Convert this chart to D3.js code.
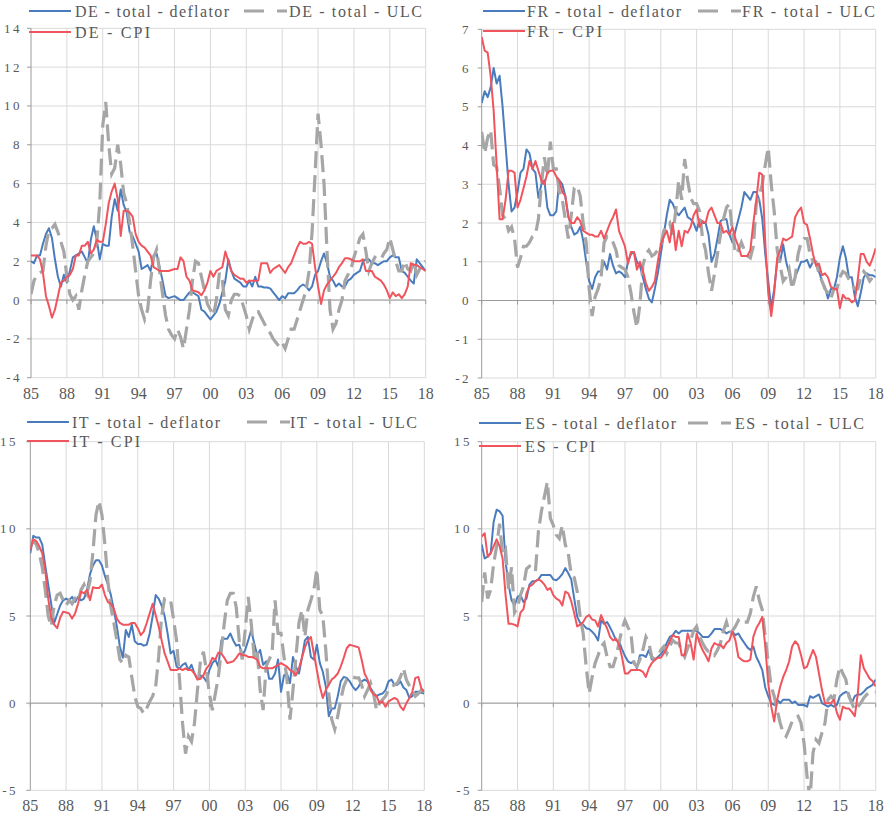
<!DOCTYPE html>
<html>
<head>
<meta charset="utf-8">
<script src="https://cdn.jsdelivr.net/npm/d3@7"></script>
<style>
  body { margin: 0; background: #fff; }
  text { font-family: "Liberation Serif", "DejaVu Serif", serif; fill: #595959; }
</style>
</head>
<body>
<svg id="chart" width="884" height="816"></svg>
<script>
// quarterly observations, 1985Q1 .. 2018Q1
var startYear = 1985;
var xTickLabels = ["85", "88", "91", "94", "97", "00", "03", "06", "09", "12", "15", "18"];

var deYTicks = [-4, -2, 0, 2, 4, 6, 8, 10, 12, 14];
var frYTicks = [-2, -1, 0, 1, 2, 3, 4, 5, 6, 7];
var itYTicks = [-5, 0, 5, 10, 15];
var esYTicks = [-5, 0, 5, 10, 15];

var deDeflator = [2.0,1.9,2.3,2.3, 2.9,3.4,3.7,3.2, 2.1,1.2,0.7,1.3, 0.9,1.5,2.2,2.3, 2.4,2.5,2.2,1.9,
  3.1,3.8,3.1,2.1, 2.9,2.8,2.8,4.3, 5.2,4.6,5.7,4.9, 4.5,3.5,3.3,2.9, 2.5,1.6,1.7,1.8,
  1.5,2.3,2.4,1.7, 1.0,0.2,0.1,0.15, 0.2,0.1,0.0,0.0, 0.2,0.4,0.4,0.3, 0.2,-0.5,-0.6,-0.8,
  -1.0,-0.8,-0.6,-0.2, 0.4,1.0,2.1,1.5, 1.1,1.0,0.9,0.7, 0.7,1.0,0.7,1.2, 0.7,0.7,0.65,0.65,
  0.6,0.4,0.2,0.0, 0.2,0.1,0.35,0.35, 0.35,0.5,0.7,0.8, 0.7,0.5,0.7,1.3, 1.5,2.0,2.4,1.9,
  1.2,1.0,0.7,0.85, 0.7,0.7,1.0,1.1, 1.3,1.4,1.5,2.0, 2.1,2.1,1.9,1.9, 1.8,1.9,2.0,2.0,
  2.2,2.3,2.2,2.2, 1.5,1.4,1.2,1.0, 0.85,2.1,1.9,1.7, 1.5];
var deULC = [0.3,1.0,1.3,1.4, 1.5,2.8,3.6,3.7, 3.9,3.5,3.0,2.5, 1.2,0.3,0.0,0.2, -0.5,0.5,1.3,2.0,
  2.2,2.4,3.0,5.0, 9.0,10.2,8.0,6.5, 6.8,8.0,7.0,5.5, 5.0,4.0,2.8,1.5, 0.2,-0.5,-1.0,-0.5,
  1.0,2.2,2.6,1.5, 0.3,-0.8,-1.5,-1.8, -2.0,-1.5,-1.9,-2.5, -1.5,-0.5,1.0,2.0, 1.9,1.2,0.5,-0.2,
  -0.5,-0.8,0.0,1.4, 1.0,-0.5,-0.8,0.0, 0.3,0.3,0.2,-0.3, -0.8,-1.5,-1.0,-0.6, -0.6,-0.9,-1.2,-1.5,
  -1.7,-2.0,-2.2,-2.4, -2.2,-2.5,-2.0,-1.5, -1.5,-1.0,-0.5,0.0, 0.5,1.5,3.5,6.5, 9.6,8.0,6.0,2.5,
  -0.5,-1.5,-1.2,-0.5, 0.0,1.0,1.3,1.6, 2.2,2.7,3.2,3.4, 2.5,1.5,1.9,2.2, 2.1,2.1,2.4,2.6,
  3.2,2.6,2.0,1.5, 1.5,2.0,1.6,1.5, 2.0,1.3,1.6,1.9, 2.0];
var deCPI = [2.3,2.3,2.3,2.1, 1.4,0.2,-0.3,-0.9, -0.5,0.2,0.9,1.0, 1.2,1.3,1.6,2.3, 2.3,2.8,2.8,3.0,
  2.4,2.6,3.1,3.0, 3.0,3.9,5.0,5.6, 6.0,5.2,3.3,4.6, 4.6,4.5,4.3,3.4, 3.0,2.8,2.7,2.5,
  2.3,1.7,1.6,1.5, 1.5,1.5,1.5,1.55, 1.6,1.6,2.2,2.0, 1.2,1.0,0.5,0.45, 0.4,0.25,0.5,0.9,
  1.5,1.2,1.5,1.6, 1.7,2.5,2.0,1.5, 1.3,1.2,1.1,1.1, 0.9,1.0,1.0,1.0, 1.0,1.9,1.9,1.9,
  1.4,1.6,1.7,1.8, 1.6,1.4,1.7,1.9, 2.3,2.7,3.0,2.9, 2.9,3.0,2.9,1.7, 0.7,-0.2,0.5,0.8,
  1.0,1.2,1.4,1.7, 1.9,2.15,2.15,2.1, 2.0,2.0,2.0,2.1, 1.5,1.5,1.5,1.2, 1.1,1.0,0.8,0.5,
  0.1,0.4,0.2,0.3, 0.1,0.3,0.7,1.9, 1.8,1.8,1.7,1.6, 1.5];

var frDeflator = [5.1,5.4,5.25,5.5, 6.0,5.6,5.8,5.0, 4.0,3.0,2.3,2.4, 2.8,3.3,3.4,3.9, 3.8,3.4,3.3,2.65,
  3.0,3.1,2.4,2.2, 2.2,2.3,3.1,3.0, 2.7,2.2,1.9,1.7, 1.75,1.9,1.55,1.0, 0.5,0.3,0.6,0.75,
  0.75,1.0,0.8,1.2, 0.9,0.7,0.75,0.7, 0.6,1.0,1.2,1.25, 1.0,0.9,0.6,0.3, 0.05,-0.05,0.3,0.7,
  1.2,1.7,2.2,2.6, 2.5,2.3,2.2,2.3, 2.4,2.15,2.1,2.0, 1.8,2.1,2.0,2.0, 1.7,1.0,1.2,1.6,
  2.05,2.1,2.1,1.7, 1.5,1.8,2.1,2.4, 2.8,2.7,2.6,2.8, 2.8,2.6,2.1,1.2, 0.5,-0.2,0.3,1.0,
  1.0,1.45,1.0,0.7, 0.4,0.6,0.8,1.0, 1.0,1.05,0.85,1.0, 1.0,0.75,0.5,0.35, 0.05,0.3,0.3,0.6,
  1.1,1.4,1.1,0.6, 0.6,0.1,-0.15,0.2, 0.6,0.7,0.65,0.65, 0.6];
var frULC = [4.35,3.8,4.2,4.4, 3.5,3.45,2.9,2.2, 2.1,1.8,1.9,1.6, 0.85,1.1,1.4,1.4, 1.5,1.65,1.7,2.1,
  3.0,3.7,3.2,4.1, 3.4,3.4,2.8,2.6, 2.1,1.6,2.2,2.9, 2.95,2.7,2.0,1.5, 0.3,-0.4,0.1,0.3,
  0.6,1.5,1.65,1.6, 1.5,1.3,0.9,0.85, 0.8,0.6,0.2,-0.3, -0.7,-0.1,0.9,1.2, 1.3,1.15,1.2,1.3,
  1.4,1.8,1.9,2.0, 1.7,2.3,3.1,2.6, 3.65,3.1,2.65,2.5, 2.5,2.3,1.6,1.3, 0.7,0.25,0.7,1.2,
  1.7,2.1,2.4,2.5, 1.8,1.2,1.3,1.5, 1.3,1.15,1.1,1.4, 2.5,2.7,3.0,3.5, 3.95,3.0,2.3,1.3,
  0.9,0.5,0.6,0.8, 0.3,0.6,1.2,1.5, 1.6,1.6,1.2,1.0, 1.0,0.7,0.5,0.3, 0.2,0.05,0.3,0.3,
  0.6,0.75,0.7,0.55, 0.45,0.3,0.3,0.6, 0.75,0.65,0.5,0.6, 0.8];
var frCPI = [6.8,6.45,6.4,5.8, 4.9,3.5,2.1,2.1, 2.6,3.35,3.35,3.3, 2.4,2.6,2.9,3.2, 3.6,3.4,3.6,3.35,
  3.1,3.0,3.3,3.35, 3.35,3.2,3.1,2.8, 2.7,2.15,2.0,2.0, 2.15,2.05,1.8,1.75, 1.7,1.7,1.65,1.65,
  1.8,1.6,1.8,2.0, 2.15,2.35,1.8,1.6, 1.4,0.95,1.25,1.25, 0.8,1.0,0.77,0.45, 0.25,0.35,0.5,1.0,
  1.45,1.65,1.8,1.5, 2.0,1.3,1.8,1.4, 1.8,1.75,1.9,2.2, 2.35,1.9,2.05,2.0, 2.3,2.4,2.2,2.0,
  2.0,1.75,1.8,1.7, 1.9,1.6,1.4,1.15, 1.15,1.15,1.3,2.0, 2.6,3.3,3.25,1.5, 0.2,-0.4,0.2,1.1,
  1.3,1.6,1.55,1.6, 1.65,2.15,2.3,2.4, 2.0,1.95,1.6,1.2, 0.9,0.95,0.65,0.7, 0.6,0.35,0.3,0.3,
  -0.2,0.15,0.05,0.05, -0.05,0.0,0.55,1.2, 1.2,1.0,0.9,1.1, 1.35];

var itDeflator = [8.6,9.6,9.5,9.5, 9.1,7.9,6.8,5.7, 4.6,5.1,5.6,5.9, 6.0,5.9,6.1,5.8, 6.1,5.9,6.0,6.5,
  7.4,7.9,8.2,8.2, 7.9,7.3,6.8,6.2, 5.35,4.4,3.25,2.6, 4.2,3.8,4.5,3.55, 3.4,3.4,3.3,3.35,
  4.0,5.0,6.2,6.0, 5.6,5.0,4.0,2.85, 3.0,2.1,2.0,2.2, 2.3,1.9,2.2,1.7, 1.4,1.6,1.5,1.25,
  1.9,2.3,2.5,2.1, 3.6,3.7,3.7,4.0, 3.6,3.3,3.35,2.75, 3.05,3.6,4.2,3.45, 2.75,3.05,2.2,2.4,
  1.4,1.4,1.7,2.5, 0.65,1.6,1.7,1.15, 2.65,2.1,1.7,2.6, 3.6,3.8,2.65,2.5, 3.35,2.3,1.8,0.95,
  -0.75,-0.3,-0.3,0.4, 1.25,1.5,1.45,1.25, 0.95,0.75,0.95,1.25, 1.35,1.25,0.85,0.6, 0.4,0.5,0.55,0.75,
  1.25,1.35,1.05,1.05, 1.25,0.9,0.75,0.3, 0.4,0.65,0.65,0.6, 0.55];
var itULC = [9.0,9.3,9.1,8.6, 7.8,6.5,5.0,4.4, 5.6,6.2,6.3,5.9, 5.6,5.9,5.7,6.0, 5.8,6.5,6.8,6.3,
  7.0,8.7,10.8,11.6, 10.8,9.1,7.0,5.5, 4.6,3.6,2.5,2.3, 2.75,2.65,1.5,0.4, -0.2,-0.3,-0.6,-0.3,
  0.1,0.4,0.95,2.65, 5.0,6.0,6.0,5.9, 4.8,3.6,1.35,-1.15, -2.9,-1.9,-2.2,-1.15, 0.75,2.4,2.95,1.9,
  0.55,-0.4,0.55,1.5, 3.05,4.6,5.9,6.3, 6.3,5.5,3.6,2.5, 4.2,6.1,4.6,2.65, 3.05,0.75,-0.4,2.1,
  2.5,2.85,5.9,4.0, 4.0,2.65,1.35,-0.95, 0.75,2.65,4.6,5.35, 3.8,5.35,5.9,6.5, 7.7,5.35,5.0,3.05,
  0.55,-0.95,-1.5,-0.75, 0.2,0.95,1.35,1.4, 1.5,1.45,1.45,1.05, 0.4,0.75,1.15,0.55, -0.4,0.0,0.2,0.4,
  0.75,0.95,1.05,1.15, 1.5,2.0,1.35,1.0, 0.75,0.4,0.55,0.75, 0.65];
var itCPI = [8.8,9.4,9.3,9.0, 8.6,7.6,6.0,4.9, 4.5,4.3,4.9,5.25, 5.2,5.15,4.85,5.15, 5.7,6.4,6.3,6.5,
  5.9,6.65,6.6,6.6, 6.8,6.2,5.8,5.7, 5.4,4.85,4.6,4.5, 4.5,4.5,4.6,4.6, 4.3,3.9,4.1,4.6,
  5.15,5.7,5.05,4.4, 3.6,2.85,2.4,1.9, 1.9,1.9,2.0,1.9, 2.0,1.9,1.9,1.7, 1.35,1.4,1.6,2.0,
  2.2,2.6,2.5,2.9, 2.85,2.6,2.3,2.35, 2.4,2.6,2.85,2.75, 2.75,2.65,2.65,2.6, 2.5,2.1,2.0,2.0,
  2.0,2.0,2.1,2.2, 2.3,2.2,2.1,1.9, 1.8,1.6,2.0,2.6, 3.2,3.6,3.8,2.85, 1.9,0.95,0.3,0.75,
  1.05,1.35,1.5,1.7, 2.1,2.6,3.15,3.35, 3.3,3.25,3.2,2.5, 1.7,1.35,0.75,0.5, 0.4,0.0,0.1,-0.2,
  0.1,0.2,0.3,0.2, -0.2,-0.4,0.0,0.3, 0.65,1.45,1.5,0.85, 0.65];

var esDeflator = [9.1,8.3,8.4,8.6, 10.4,11.1,11.0,10.75, 8.1,6.8,5.9,5.6, 6.1,6.2,5.8,6.0, 6.8,7.0,7.0,7.1,
  7.35,7.35,7.35,7.35, 7.1,7.05,7.2,7.4, 7.75,7.45,7.1,6.0, 4.95,4.6,4.5,4.3, 4.25,4.1,3.9,3.6,
  4.75,4.55,4.65,4.35, 4.0,3.6,3.55,3.1, 2.7,2.4,2.3,2.4, 2.0,2.75,2.75,2.65, 3.05,2.5,2.5,2.65,
  2.8,3.05,3.45,3.8, 3.9,4.15,4.0,4.15, 4.15,4.15,4.15,4.15, 4.15,4.0,3.8,3.8, 3.8,4.0,4.25,4.25,
  4.25,4.15,4.0,4.1, 4.1,3.9,4.0,3.7, 3.45,3.2,3.05,3.25, 2.65,2.3,1.9,0.9, 0.4,0.0,-0.1,0.2,
  0.0,0.2,0.2,0.2, 0.0,0.1,-0.1,-0.1, -0.1,-0.2,0.4,0.3, 0.4,0.5,0.0,-0.1, -0.2,-0.1,-0.2,-0.1,
  0.4,0.55,0.65,0.55, 0.0,0.4,0.5,0.5, 0.65,0.85,0.95,1.05, 1.35];
var esULC = [5.8,7.5,6.0,6.5, 8.0,9.0,10.3,8.5, 8.8,6.5,7.8,5.2, 5.5,6.2,6.7,7.7, 7.85,7.65,7.55,9.85,
  11.0,11.85,12.7,10.6, 10.2,9.65,9.45,10.2, 9.1,8.6,7.35,7.2, 6.4,4.95,4.0,2.1, 0.55,1.5,2.3,2.75,
  3.25,3.45,2.65,2.1, 2.1,2.65,3.45,4.25, 4.75,4.35,4.0,2.3, 2.1,2.5,3.05,3.8, 3.45,2.65,2.5,2.65,
  3.05,3.25,2.85,3.25, 3.6,3.45,3.45,2.95, 2.65,3.15,3.6,4.15, 4.4,3.8,3.45,3.15, 2.95,2.95,2.75,3.05,
  3.45,4.15,4.65,4.0, 4.15,4.4,4.75,4.55, 4.65,4.65,5.15,6.1, 6.7,5.9,5.35,3.8, 2.3,0.95,0.4,-0.4,
  -1.15,-1.7,-1.9,-1.5, -1.05,-0.85,-0.75,-1.15, -2.3,-4.2,-5.5,-2.85, -2.1,-2.3,-1.7,-1.15, 0.2,0.4,0.2,1.35,
  2.1,1.7,1.35,0.4, 0.0,-0.4,-0.2,0.0, 0.3,0.5,0.6,0.65, 0.65];
var esCPI = [9.55,9.75,8.4,8.6, 9.0,9.4,9.0,8.3, 6.2,4.55,4.55,4.5, 4.4,5.2,5.4,6.3, 6.7,6.8,7.0,7.1,
  7.0,6.8,6.5,6.6, 6.2,6.0,5.9,5.6, 6.4,6.3,5.85,5.15, 4.4,4.5,4.65,4.95, 5.05,4.8,4.75,4.4,
  5.05,4.65,4.3,3.8, 3.6,3.7,3.35,2.65, 1.7,1.7,1.9,1.9, 1.9,1.9,1.8,1.5, 2.0,2.3,2.5,2.6,
  2.6,2.85,3.15,3.55, 3.9,3.8,3.8,2.75, 2.75,4.0,3.45,2.5, 4.0,3.45,3.05,2.75, 2.4,3.15,3.45,3.35,
  3.35,3.15,3.45,3.6, 4.1,3.6,2.65,2.5, 2.4,2.4,2.5,3.8, 4.3,4.6,4.95,3.25, 1.15,-0.2,-1.05,0.2,
  0.95,1.5,1.9,2.4, 3.25,3.55,3.35,2.75, 2.0,2.1,2.6,3.05, 2.65,1.7,0.75,0.0, 0.0,0.0,0.2,-0.55,
  -0.95,-0.2,-0.3,-0.3, -0.5,-0.75,0.55,2.75, 2.0,1.7,1.4,1.25, 0.95];

var colors = { deflator: "#4a7bbd", ulc: "#a6a6a6", cpi: "#f0545d" };

var panels = [
  { code: "DE", ticks: deYTicks, deflator: deDeflator, ulc: deULC, cpi: deCPI,
    l: 31, r: 425.7, t: 28.3, b: 377.7, labelEnd: 22, xLabelY: 399,
    leg: { y1: 11, y2: 32, lx: 29, tx: 75, w1: 154, dx: 244, t2x: 289, w2: 133, w3: 75 } },
  { code: "FR", ticks: frYTicks, deflator: frDeflator, ulc: frULC, cpi: frCPI,
    l: 481.7, r: 875.7, t: 29.3, b: 378, labelEnd: 471, xLabelY: 399,
    leg: { y1: 11, y2: 31, lx: 483, tx: 527, w1: 154, dx: 698, t2x: 742, w2: 133, w3: 75 } },
  { code: "IT", ticks: itYTicks, deflator: itDeflator, ulc: itULC, cpi: itCPI,
    l: 30.3, r: 424.3, t: 441.7, b: 790.3, labelEnd: 18, xLabelY: 811,
    leg: { y1: 422, y2: 441, lx: 27, tx: 72, w1: 148, dx: 247, t2x: 290, w2: 127, w3: 68 } },
  { code: "ES", ticks: esYTicks, deflator: esDeflator, ulc: esULC, cpi: esCPI,
    l: 481.7, r: 875.7, t: 441.7, b: 790.3, labelEnd: 472, xLabelY: 811,
    leg: { y1: 423, y2: 446, lx: 479, tx: 525, w1: 151, dx: 688, t2x: 735, w2: 129, w3: 70 } }
];

var svg = d3.select("#chart");
var dash = "17,7";

panels.forEach(function (p, pi) {
  var n = p.deflator.length;
  var x = d3.scaleLinear().domain([startYear, startYear + (n - 1) / 4]).range([p.l, p.r]);
  var y = d3.scaleLinear().domain([p.ticks[0], p.ticks[p.ticks.length - 1]]).range([p.b, p.t]);
  var g = svg.append("g");

  var years = xTickLabels.map(function (d, i) { return startYear + 3 * i; });

  // gridlines
  g.selectAll(".hgrid").data(p.ticks).enter().append("line")
    .attr("x1", p.l).attr("x2", p.r)
    .attr("y1", function (d) { return y(d); }).attr("y2", function (d) { return y(d); })
    .attr("stroke", "#d9d9d9").attr("stroke-width", 1);
  g.selectAll(".vgrid").data(years.slice(1)).enter().append("line")
    .attr("x1", function (d) { return x(d); }).attr("x2", function (d) { return x(d); })
    .attr("y1", p.t).attr("y2", p.b)
    .attr("stroke", "#d9d9d9").attr("stroke-width", 1);

  // y axis line + ticks
  g.append("line").attr("x1", p.l).attr("x2", p.l).attr("y1", p.t).attr("y2", p.b)
    .attr("stroke", "#9a9a9a").attr("stroke-width", 1);
  g.selectAll(".ytick").data(p.ticks).enter().append("line")
    .attr("x1", p.l - 4).attr("x2", p.l)
    .attr("y1", function (d) { return y(d); }).attr("y2", function (d) { return y(d); })
    .attr("stroke", "#9a9a9a");
  g.selectAll(".ylab").data(p.ticks).enter().append("text")
    .attr("x", p.labelEnd).attr("y", function (d) { return y(d); })
    .attr("dy", "0.35em").attr("text-anchor", "end")
    .style("font-size", "13px").style("letter-spacing", "2.5px")
    .text(function (d) { return d; });

  // zero line with ticks
  g.append("line").attr("x1", p.l).attr("x2", p.r).attr("y1", y(0)).attr("y2", y(0))
    .attr("stroke", "#9a9a9a").attr("stroke-width", 1);
  g.selectAll(".xtick").data(years).enter().append("line")
    .attr("x1", function (d) { return x(d); }).attr("x2", function (d) { return x(d); })
    .attr("y1", y(0)).attr("y2", y(0) + 4)
    .attr("stroke", "#9a9a9a");
  g.selectAll(".xlab").data(xTickLabels).enter().append("text")
    .attr("x", function (d, i) { return x(years[i]); }).attr("y", p.xLabelY)
    .attr("text-anchor", "middle")
    .style("font-size", "16px")
    .text(function (d) { return d; });

  // series
  var clipId = "clip" + pi;
  svg.append("clipPath").attr("id", clipId).append("rect")
    .attr("x", p.l).attr("y", p.t).attr("width", p.r - p.l).attr("height", p.b - p.t);
  var line = d3.line()
    .x(function (d, i) { return x(startYear + i / 4); })
    .y(function (d) { return y(d); });
  var lines = g.append("g").attr("clip-path", "url(#" + clipId + ")");
  lines.append("path").attr("d", line(p.deflator)).attr("fill", "none")
    .attr("stroke", colors.deflator).attr("stroke-width", 2).attr("stroke-linejoin", "round");
  lines.append("path").attr("d", line(p.ulc)).attr("fill", "none")
    .attr("stroke", colors.ulc).attr("stroke-width", 3.2).attr("stroke-dasharray", dash);
  lines.append("path").attr("d", line(p.cpi)).attr("fill", "none")
    .attr("stroke", colors.cpi).attr("stroke-width", 2).attr("stroke-linejoin", "round");

  // legend
  var L = p.leg;
  g.append("line").attr("x1", L.lx).attr("x2", L.lx + 42).attr("y1", L.y1).attr("y2", L.y1)
    .attr("stroke", colors.deflator).attr("stroke-width", 2);
  g.append("line").attr("x1", L.dx).attr("x2", L.dx + 43).attr("y1", L.y1).attr("y2", L.y1)
    .attr("stroke", colors.ulc).attr("stroke-width", 3.2).attr("stroke-dasharray", "20,13");
  g.append("line").attr("x1", L.lx).attr("x2", L.lx + 42).attr("y1", L.y2).attr("y2", L.y2)
    .attr("stroke", colors.cpi).attr("stroke-width", 2);
  var legTexts = [
    { x: L.tx, y: L.y1, w: L.w1, s: p.code + " - total - deflator" },
    { x: L.t2x, y: L.y1, w: L.w2, s: p.code + " - total - ULC" },
    { x: L.tx, y: L.y2, w: L.w3, s: p.code + " - CPI" }
  ];
  legTexts.forEach(function (d) {
    g.append("text").attr("x", d.x).attr("y", d.y).attr("dy", "0.35em")
      .attr("textLength", d.w).attr("lengthAdjust", "spacing")
      .style("font-size", "16px").text(d.s);
  });
});
</script>
</body>
</html>
